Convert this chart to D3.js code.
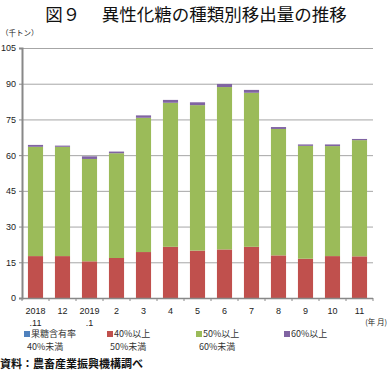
<!DOCTYPE html>
<html><head><meta charset="utf-8">
<script src="https://cdn.jsdelivr.net/npm/d3@7/dist/d3.min.js"></script>
<style>body{margin:0;background:#fff;}svg{display:block;font-family:"Noto Sans CJK JP","Noto Sans",sans-serif;}</style>
</head><body>
<svg id="c" width="389" height="375"></svg>
<script>
const categories = ["2018\n.11","12","2019\n.1","2","3","4","5","6","7","8","9","10","11"];
const seriesNames = ["果糖含有率\n40%未満","40%以上\n50%未満","50%以上\n60%未満","60%以上"];
const under40 = [0,0,0,0,0,0,0,0,0,0,0,0,0];
const from40to50 = [17.6,17.6,15.4,16.8,19.3,21.5,19.9,20.4,21.5,17.9,16.5,17.6,17.5];
const from50to60 = [45.9,45.9,43.0,44.0,56.4,60.5,61.1,68.2,64.7,53.1,47.4,46.2,48.8];
const over60 = [0.8,0.5,1.1,0.7,1.0,1.2,1.2,1.3,1.2,0.8,0.6,0.7,0.5];
const yTicks = [0,15,30,45,60,75,90,105];
const colors = ["#4F81BD","#C0504D","#9BBB59","#8064A2"];

const svg = d3.select("#c");
const L = 22, R = 373, T = 48, B = 298;
const x = d3.scaleBand().domain(d3.range(categories.length)).range([L,R]).paddingInner(0.44).paddingOuter(0.22);
const y = d3.scaleLinear().domain([0,105]).range([B,T]);

svg.append("text").attr("x",196).attr("y",21).attr("text-anchor","middle")
  .attr("font-size",17.5).attr("font-weight",400).attr("fill","#111")
  .text("図９　 異性化糖の種類別移出量の推移");
svg.append("text").attr("x",1).attr("y",36).attr("font-size",7.5).attr("fill","#222").text("（千トン）");

// grid
svg.append("g").selectAll("line").data(yTicks.filter(d=>d>0)).join("line")
  .attr("x1",L).attr("x2",R).attr("y1",d=>y(d)+0.5).attr("y2",d=>y(d)+0.5)
  .attr("stroke","#a6a6a6").attr("stroke-width",1);

// bars
const rows = categories.map((c,i)=>({i,a:under40[i],b:from40to50[i],c:from50to60[i],d:over60[i]}));
const stack = d3.stack().keys(["a","b","c","d"])(rows);
svg.append("g").selectAll("g").data(stack).join("g").attr("fill",(d,k)=>colors[k])
  .selectAll("rect").data(d=>d).join("rect")
  .attr("x",d=>x(d.data.i)).attr("width",x.bandwidth())
  .attr("y",d=>y(d[1])).attr("height",d=>Math.max(0,y(d[0])-y(d[1])));

// y axis
const ya = d3.axisLeft(y).tickValues(yTicks).tickSize(3).tickPadding(3);
const gy = svg.append("g").attr("transform",`translate(${L},0)`).call(ya);
gy.select(".domain").attr("stroke","#888").attr("stroke-width",2);
gy.selectAll(".tick line").attr("stroke","#888");
gy.selectAll("text").attr("font-size",9).attr("fill","#222").attr("font-family","Arial, 'Liberation Sans', sans-serif");

// x axis
svg.append("line").attr("x1",L).attr("x2",R).attr("y1",B+0.5).attr("y2",B+0.5).attr("stroke","#888").attr("stroke-width",1.5);
const step = x.step();
svg.append("g").selectAll("line").data(d3.range(categories.length+1)).join("line")
  .attr("x1",d=>L+d*step).attr("x2",d=>L+d*step).attr("y1",B).attr("y2",B+3).attr("stroke","#888");
const xl = svg.append("g").selectAll("text").data(categories).join("text")
  .attr("text-anchor","middle").attr("font-size",9).attr("fill","#222")
  .attr("font-family","Arial, 'Liberation Sans', sans-serif")
  .attr("x",(d,i)=>x(i)+x.bandwidth()/2).attr("y",314);
xl.selectAll("tspan").data(d=>d.split("\n")).join("tspan")
  .attr("x",function(){return this.parentNode.getAttribute("x");})
  .attr("dy",(d,j)=>j?12:0).text(d=>d);
svg.append("text").attr("x",387).attr("y",325).attr("text-anchor","end").attr("font-size",7.5).attr("fill","#222").text("(年 月)");

// legend
const lx = [24,107,196,284];
const lg = svg.append("g").selectAll("g").data(seriesNames).join("g")
  .attr("transform",(d,i)=>`translate(${lx[i]},337)`);
lg.append("rect").attr("x",0).attr("y",-6).attr("width",6).attr("height",6).attr("fill",(d,i)=>colors[i]);
lg.append("text").attr("font-size",9).attr("fill","#333").each(function(d){
  const parts=d.split("\n");
  d3.select(this).append("tspan").attr("x",7).attr("y",0).text(parts[0]);
  if(parts[1]) d3.select(this).append("tspan").attr("x",3).attr("y",13).text(parts[1]);
});

svg.append("text").attr("x",0).attr("y",368).attr("font-size",11).attr("font-weight",700).attr("fill","#111")
  .text("資料：農畜産業振興機構調べ");
</script>
</body></html>
